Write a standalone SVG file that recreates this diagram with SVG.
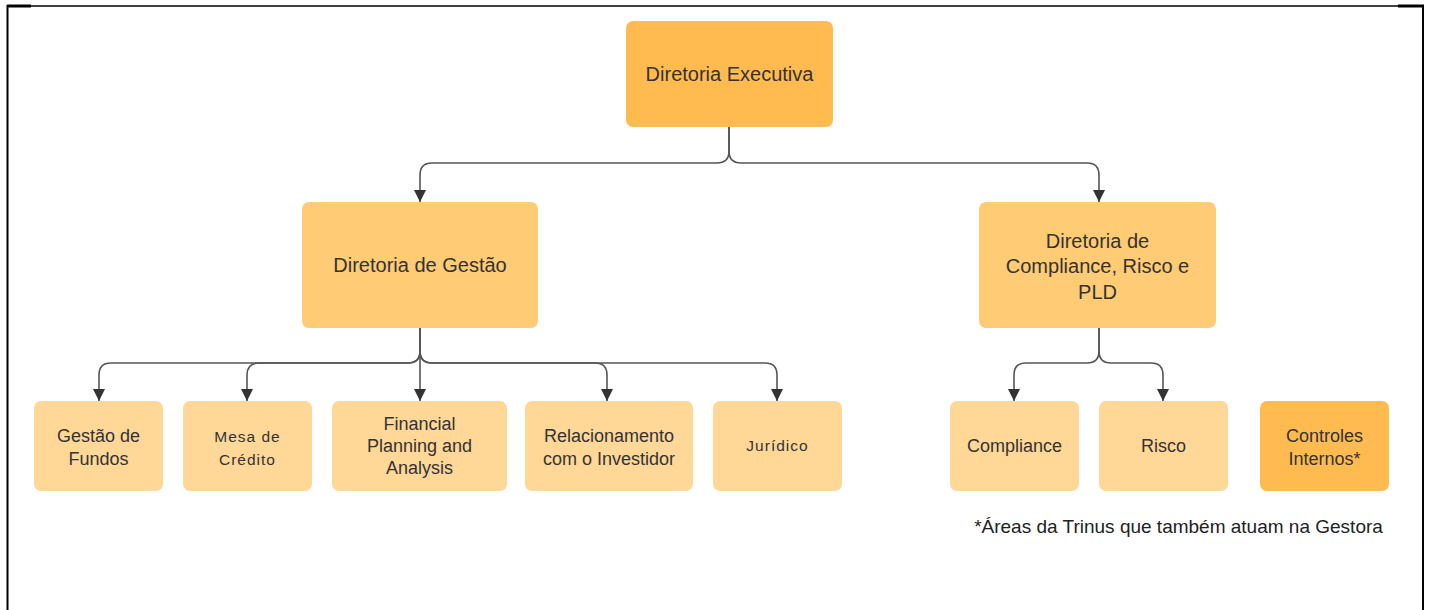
<svg xmlns="http://www.w3.org/2000/svg" width="1431" height="610" viewBox="0 0 1431 610">
<defs>
<marker id="arr" markerUnits="userSpaceOnUse" markerWidth="12" markerHeight="12" viewBox="0 0 10 10" refX="10" refY="5" orient="auto">
<path d="M0,0 L10,5 L0,10 z" fill="#333"/>
</marker>
<style>
.t{font-family:"Liberation Sans",Arial,sans-serif;fill:#333;text-anchor:middle}
.big{font-size:20px}
.mid{font-size:18px}
.sm{font-size:15.5px;letter-spacing:1px}
.c1{fill:#FFBB4F}
.c2{fill:#FFCB74}
.c3{fill:#FFD797}
.cn{fill:none;stroke:#555;stroke-width:1.6}
</style>
</defs>
<rect width="1431" height="610" fill="#fff"/>
<g id="frame" stroke="#000" fill="none">
<path d="M7,6 H1424" stroke-width="1.5"/>
<path d="M7,6 H31" stroke-width="3"/>
<path d="M1398,6 H1424" stroke-width="3"/>
<path d="M7.5,5 V610" stroke-width="2"/>
<path d="M1423,5 V610" stroke-width="2"/>
</g>
<g id="connectors" class="cn">
<path d="M729,127 V151 Q729,163 717,163 H432 Q420,163 420,175 V202" marker-end="url(#arr)"/>
<path d="M729,127 V151 Q729,163 741,163 H1087 Q1099,163 1099,175 V202" marker-end="url(#arr)"/>
<path d="M420,328 V351 Q420,363 408,363 H111 Q99,363 99,375 V401" marker-end="url(#arr)"/>
<path d="M420,328 V351 Q420,363 408,363 H259 Q247,363 247,375 V401" marker-end="url(#arr)"/>
<path d="M420,328 V401" marker-end="url(#arr)"/>
<path d="M420,328 V351 Q420,363 432,363 H595 Q607,363 607,375 V401" marker-end="url(#arr)"/>
<path d="M420,328 V351 Q420,363 432,363 H765 Q777,363 777,375 V401" marker-end="url(#arr)"/>
<path d="M1099,328 V351 Q1099,363 1087,363 H1026 Q1014,363 1014,375 V401" marker-end="url(#arr)"/>
<path d="M1099,328 V351 Q1099,363 1111,363 H1151 Q1163,363 1163,375 V401" marker-end="url(#arr)"/>
</g>
<g id="n-exec">
<rect class="c1" x="626" y="21" width="207" height="106" rx="7"/>
<text class="t big" x="729.5" y="81">Diretoria Executiva</text>
</g>
<g id="n-gestao">
<rect class="c2" x="302" y="202" width="236" height="126" rx="7"/>
<text class="t big" x="420" y="272">Diretoria de Gestão</text>
</g>
<g id="n-compl-dir">
<rect class="c2" x="979" y="202" width="237" height="126" rx="7"/>
<text class="t big" x="1097.5" y="248">Diretoria de</text>
<text class="t big" x="1097.5" y="273">Compliance, Risco e</text>
<text class="t big" x="1097.5" y="299">PLD</text>
</g>
<g id="n-fundos">
<rect class="c3" x="34" y="401" width="129" height="90" rx="7"/>
<text class="t mid" x="98.5" y="442">Gestão de</text>
<text class="t mid" x="98.5" y="465">Fundos</text>
</g>
<g id="n-mesa">
<rect class="c3" x="183" y="401" width="129" height="90" rx="7"/>
<text class="t sm" x="247.5" y="442">Mesa de</text>
<text class="t sm" x="247.5" y="465">Crédito</text>
</g>
<g id="n-fpa">
<rect class="c3" x="332" y="401" width="175" height="90" rx="7"/>
<text class="t mid" x="419.5" y="430">Financial</text>
<text class="t mid" x="419.5" y="452">Planning and</text>
<text class="t mid" x="419.5" y="474">Analysis</text>
</g>
<g id="n-ri">
<rect class="c3" x="525" y="401" width="168" height="90" rx="7"/>
<text class="t mid" x="609" y="442">Relacionamento</text>
<text class="t mid" x="609" y="465">com o Investidor</text>
</g>
<g id="n-jur">
<rect class="c3" x="713" y="401" width="129" height="90" rx="7"/>
<text class="t sm" x="777.5" y="451">Jurídico</text>
</g>
<g id="n-compliance">
<rect class="c3" x="950" y="401" width="129" height="90" rx="7"/>
<text class="t mid" x="1014.5" y="452">Compliance</text>
</g>
<g id="n-risco">
<rect class="c3" x="1099" y="401" width="129" height="90" rx="7"/>
<text class="t mid" x="1163.5" y="452">Risco</text>
</g>
<g id="n-controles">
<rect class="c1" x="1260" y="401" width="129" height="90" rx="7"/>
<text class="t mid" x="1324.5" y="442">Controles</text>
<text class="t mid" x="1324.5" y="465">Internos*</text>
</g>
<text id="note" x="1178.5" y="533" style="font-family:'Liberation Sans',Arial,sans-serif;font-size:19px;fill:#222;text-anchor:middle">*Áreas da Trinus que também atuam na Gestora</text>
</svg>
